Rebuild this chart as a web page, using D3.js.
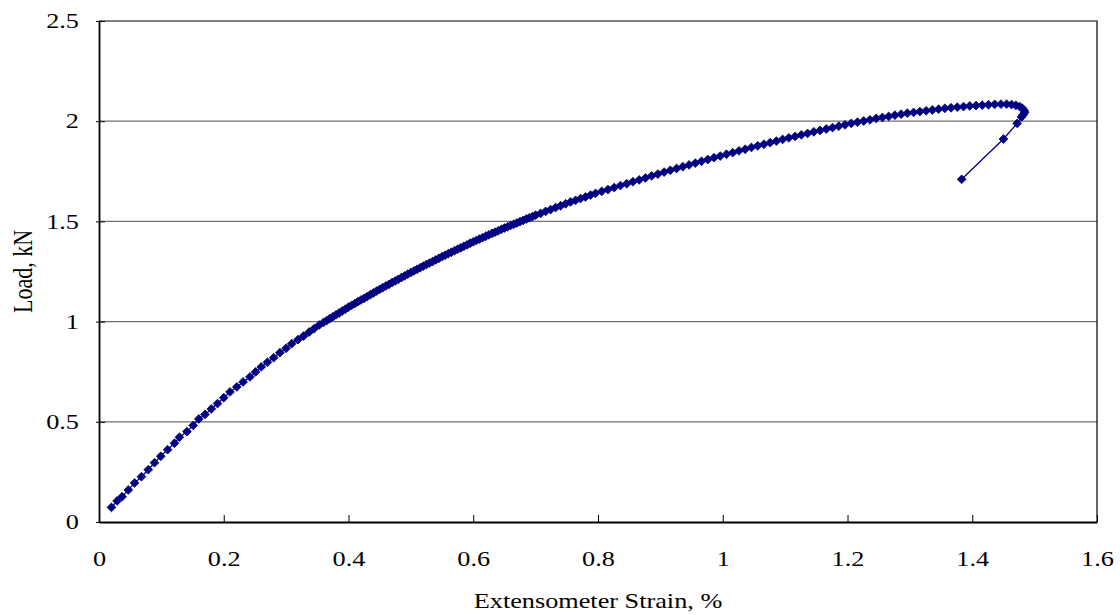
<!DOCTYPE html>
<html>

<head>
    <script src="https://cdnjs.cloudflare.com/ajax/libs/d3/7.8.5/d3.min.js"></script>
    <style>
        body {
            margin: 0;
            background: #fff;
        }

        .lbl {
            font-family: 'Liberation Serif', 'Times New Roman', serif;
            font-size: 21px;
            fill: #000;
        }
    </style>
</head>

<body>
    <script>
        // strain (%) and load (kN)
        const strain = [
            0.020, 0.029, 0.037, 0.047, 0.057, 0.068, 0.079, 0.089, 0.099, 0.110,
            0.121, 0.129, 0.141, 0.151, 0.160, 0.170, 0.180, 0.190, 0.200, 0.210,
            0.221, 0.231, 0.242, 0.251, 0.260, 0.270, 0.280, 0.290, 0.300, 0.309,
            0.319, 0.328, 0.337, 0.345, 0.353,
            0.360, 0.365, 0.370, 0.375, 0.380, 0.385, 0.390, 0.395, 0.400, 0.405,
            0.410, 0.415, 0.420, 0.425, 0.430, 0.435, 0.440, 0.445, 0.450, 0.455,
            0.460, 0.465, 0.470, 0.475, 0.480, 0.485, 0.490, 0.495, 0.500, 0.505,
            0.510, 0.515, 0.520, 0.525, 0.530, 0.535, 0.540, 0.545, 0.550, 0.555,
            0.560, 0.565, 0.570, 0.575, 0.580, 0.585, 0.590, 0.595, 0.600, 0.605,
            0.610, 0.615, 0.620, 0.625, 0.630, 0.635, 0.640, 0.645, 0.650, 0.655,
            0.660, 0.665, 0.670, 0.675, 0.680, 0.685, 0.690, 0.695, 0.700,
            0.708, 0.716, 0.724, 0.732, 0.740, 0.748, 0.756, 0.764, 0.772, 0.780,
            0.788, 0.796,
            0.806, 0.816, 0.826, 0.836, 0.846, 0.856, 0.866, 0.876, 0.886, 0.896,
            0.906, 0.916, 0.926, 0.936, 0.946, 0.956, 0.966, 0.976, 0.986, 0.996,
            1.006, 1.016, 1.026, 1.036, 1.046, 1.056, 1.066, 1.076, 1.086, 1.096,
            1.106, 1.116, 1.126, 1.136, 1.146, 1.156, 1.166, 1.176, 1.186, 1.196,
            1.206, 1.216, 1.226, 1.236, 1.246, 1.256, 1.266, 1.276, 1.286, 1.296,
            1.306, 1.316, 1.326, 1.336, 1.346, 1.356, 1.366, 1.376, 1.386, 1.396,
            1.406, 1.416, 1.426, 1.436, 1.446, 1.455, 1.463, 1.470, 1.476, 1.480,
            1.483, 1.484, 1.482, 1.479, 1.472, 1.450, 1.383
        ]
        const load = [
            0.073, 0.105, 0.126, 0.160, 0.195, 0.226, 0.261, 0.296, 0.328, 0.361,
            0.393, 0.423, 0.451, 0.482, 0.514, 0.537, 0.564, 0.591, 0.620, 0.649,
            0.674, 0.699, 0.724, 0.749, 0.774, 0.797, 0.820, 0.845, 0.867, 0.890,
            0.910, 0.928, 0.948, 0.965, 0.983,
            0.996, 1.005, 1.015, 1.024, 1.034, 1.043, 1.053, 1.062, 1.072, 1.081,
            1.090, 1.099, 1.108, 1.116, 1.125, 1.134, 1.143, 1.152, 1.161, 1.169,
            1.178, 1.186, 1.195, 1.203, 1.211, 1.220, 1.228, 1.237, 1.245, 1.253,
            1.261, 1.269, 1.277, 1.285, 1.292, 1.300, 1.308, 1.316, 1.324, 1.331,
            1.339, 1.346, 1.354, 1.361, 1.368, 1.376, 1.383, 1.391, 1.398, 1.405,
            1.412, 1.419, 1.426, 1.433, 1.440, 1.446, 1.453, 1.460, 1.467, 1.473,
            1.480, 1.486, 1.492, 1.499, 1.505, 1.512, 1.518, 1.524, 1.531,
            1.540, 1.550, 1.559, 1.569, 1.578, 1.588, 1.597, 1.605, 1.614, 1.622,
            1.631, 1.640,
            1.650, 1.659, 1.669, 1.679, 1.688, 1.698, 1.707, 1.717, 1.727, 1.736,
            1.746, 1.755, 1.764, 1.773, 1.782, 1.791, 1.800, 1.809, 1.818, 1.826,
            1.835, 1.843, 1.852, 1.860, 1.869, 1.877, 1.885, 1.893, 1.901, 1.909,
            1.917, 1.924, 1.932, 1.939, 1.947, 1.954, 1.961, 1.968, 1.975, 1.982,
            1.989, 1.995, 2.001, 2.007, 2.014, 2.019, 2.024, 2.030, 2.035, 2.040,
            2.044, 2.048, 2.052, 2.056, 2.060, 2.064, 2.067, 2.070, 2.073, 2.076,
            2.078, 2.080, 2.082, 2.084, 2.085, 2.085, 2.083, 2.079, 2.073, 2.065,
            2.055, 2.045, 2.033, 2.021, 1.989, 1.911, 1.710
        ]
        const xTicks = [0, 0.2, 0.4, 0.6, 0.8, 1, 1.2, 1.4, 1.6]
        const yTicks = [0, 0.5, 1, 1.5, 2, 2.5]

        const W = 1120, H = 615
        const mLeft = 99, mRight = 1097, mTop = 21, mBottom = 522
        const stretch = 1.25 // text in the picture is wider than tall

        const svg = d3.select("body").append("svg")
            .attr("width", W)
            .attr("height", H)

        const x = d3.scaleLinear().domain([0, 1.6]).range([mLeft, mRight])
        const y = d3.scaleLinear().domain([0, 2.5]).range([mBottom, mTop])

        // gridlines
        svg.append("g")
            .selectAll("line")
            .data(yTicks.filter(d => d > 0 && d < 2.5))
            .enter()
            .append("line")
            .attr("x1", mLeft)
            .attr("x2", mRight)
            .attr("y1", d => y(d))
            .attr("y2", d => y(d))
            .attr("stroke", "#707070")
            .attr("stroke-width", 1.2)

        // plot border (top, right)
        svg.append("path")
            .attr("d", `M${mLeft},${mTop}H${mRight}V${mBottom}`)
            .attr("fill", "none")
            .attr("stroke", "#000")
            .attr("stroke-width", 1.2)

        // x axis
        const gx = svg.append("g")
            .attr("transform", `translate(0,${mBottom})`)
            .call(d3.axisBottom(x).tickValues(xTicks).tickFormat(d3.format("")).tickSizeInner(-7).tickSizeOuter(0).tickPadding(29))
        gx.select(".domain").attr("stroke-width", 1.8)
        gx.selectAll("text")
            .attr("class", "lbl")
            .attr("transform", `scale(${stretch},1)`)
        gx.attr("font-size", null).attr("font-family", null)

        // y axis
        const gy = svg.append("g")
            .attr("transform", `translate(${mLeft},0)`)
            .call(d3.axisLeft(y).tickValues(yTicks).tickFormat(d3.format("")).tickSizeInner(3).tickSizeOuter(0).tickPadding(17))
        gy.select(".domain").attr("stroke-width", 1.8)
        gy.selectAll(".tick line").attr("x2", -3).attr("x1", 6)
        gy.selectAll("text")
            .attr("class", "lbl")
            .attr("x", -20 / stretch)
            .attr("transform", `scale(${stretch},1)`)
        gy.attr("font-size", null).attr("font-family", null)

        // series
        const pts = strain.map((s, i) => [s, load[i]])

        svg.append("path")
            .datum(pts)
            .attr("fill", "none")
            .attr("stroke", "#000080")
            .attr("stroke-width", 1.3)
            .attr("d", d3.line().x(d => x(d[0])).y(d => y(d[1])))

        svg.append("g")
            .selectAll("path")
            .data(pts)
            .enter()
            .append("path")
            .attr("d", "M0,-4.4L4.4,0L0,4.4L-4.4,0Z")
            .attr("transform", d => `translate(${x(d[0])},${y(d[1])})`)
            .attr("fill", "#000080")
            .attr("stroke", "#000080")
            .attr("stroke-width", 0.8)

        // axis titles
        svg.append("text")
            .attr("class", "lbl")
            .attr("text-anchor", "middle")
            .attr("transform", `translate(${(mLeft + mRight) / 2},608) scale(${stretch},1)`)
            .text("Extensometer Strain, %")

        svg.append("text")
            .attr("class", "lbl")
            .attr("text-anchor", "middle")
            .style("font-size", "22px")
            .attr("transform", `translate(32,${(mTop + mBottom) / 2}) rotate(-90) scale(1,1.2)`)
            .text("Load, kN")
    </script>
</body>

</html>
